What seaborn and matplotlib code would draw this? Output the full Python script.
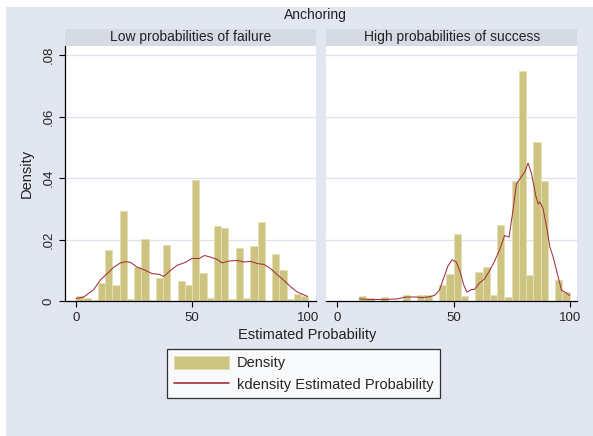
import numpy as np
import pandas as pd
import matplotlib
matplotlib.use("Agg")
import matplotlib.pyplot as plt
import matplotlib.patches as mpatches
import matplotlib.lines as mlines
import seaborn as sns

# ---------------- data ----------------
title = "Anchoring"
panel_titles = ["Low probabilities of failure", "High probabilities of success"]
n_bins = 32
bin_range = (0, 100)
bin_width = (bin_range[1] - bin_range[0]) / n_bins
bin_centers = [bin_range[0] + bin_width * (k + 0.5) for k in range(n_bins)]

dens_low = [0.0015, 0.0011, 0.0003, 0.0060, 0.0167, 0.0053, 0.0293, 0.0006,
            0.0110, 0.0201, 0.0003, 0.0076, 0.0182, 0.0000, 0.0066, 0.0051,
            0.0393, 0.0091, 0.0011, 0.0243, 0.0238, 0.0006, 0.0174, 0.0011,
            0.0179, 0.0256, 0.0000, 0.0152, 0.0100, 0.0006, 0.0023, 0.0015]

dens_high = [0.0000, 0.0000, 0.0000, 0.0015, 0.0011, 0.0000, 0.0012, 0.0000,
             0.0000, 0.0021, 0.0000, 0.0020, 0.0021, 0.0000, 0.0051, 0.0088,
             0.0219, 0.0015, 0.0000, 0.0094, 0.0112, 0.0021, 0.0246, 0.0012,
             0.0389, 0.0750, 0.0085, 0.0519, 0.0390, 0.0000, 0.0067, 0.0029]

kde_low_x = [0, 3.3, 7.6, 10.5, 13.4, 16.2, 19.1, 21.3, 23.4, 26.3, 29.2, 32.8,
             35.6, 37.8, 40.7, 43.5, 47.1, 50.0, 52.9, 55.3, 57.9, 60.8, 62.9,
             65.8, 69.4, 72.3, 75.1, 78.0, 80.9, 83.8, 86.6, 89.5, 92.4, 95.3, 99.6]
kde_low_y = [0.0008, 0.0013, 0.0037, 0.0069, 0.0089, 0.0110, 0.0124, 0.0128,
             0.0126, 0.0110, 0.0102, 0.0089, 0.0087, 0.0080, 0.0100, 0.0116,
             0.0126, 0.0139, 0.0138, 0.0148, 0.0143, 0.0135, 0.0124, 0.0130,
             0.0132, 0.0127, 0.0129, 0.0122, 0.0119, 0.0105, 0.0086, 0.0067,
             0.0046, 0.0029, 0.0015]

kde_high_x = [9.4, 13.7, 20.9, 25.9, 29.5, 33.9, 36.7, 39.6, 41.8, 43.9, 45.7,
              47.6, 49.4, 51.2, 52.9, 54.3, 55.8, 57.6, 59.1, 61.2, 63.4, 65.6,
              67.7, 69.9, 72.0, 73.9, 75.4, 77.1, 79.3, 80.7, 82.1, 83.6, 85.4,
              86.5, 87.2, 88.6, 90.1, 91.5, 92.9, 94.7, 96.5, 98.0, 100.0]
kde_high_y = [0.0007, 0.0005, 0.0005, 0.0007, 0.0013, 0.0013, 0.0011, 0.0014,
              0.0018, 0.0035, 0.0073, 0.0114, 0.0134, 0.0127, 0.0094, 0.0054,
              0.0029, 0.0037, 0.0038, 0.0059, 0.0072, 0.0100, 0.0130, 0.0168,
              0.0213, 0.0208, 0.0284, 0.0381, 0.0405, 0.0421, 0.0449, 0.0414,
              0.0343, 0.0316, 0.0322, 0.0300, 0.0240, 0.0176, 0.0143, 0.0089,
              0.0035, 0.0029, 0.0018]

y_ticks = [0, 0.02, 0.04, 0.06, 0.08]
y_ticklabels = ["0", ".02", ".04", ".06", ".08"]
x_ticks = [0, 50, 100]
x_ticklabels = ["0", "50", "100"]
legend_labels = ["Density", "kdensity Estimated Probability"]

# ---------------- style ----------------
sns.set_theme(style="white")
plt.rcParams["font.family"] = ["Liberation Sans", "DejaVu Sans"]

BG = "#E1E6F0"
STRIP = "#D5DAE5"
BAR = "#CDC482"
BAR_EDGE = "#E4DFB2"
LINE = "#A3303F"
GRID = "#DDE3EC"

W, H = 593, 436
fig = plt.figure(figsize=(W / 100, H / 100), dpi=100, facecolor="white")
fig.patches.append(mpatches.Rectangle((6 / W, 0), 1 - 6 / W, 1 - 7 / H,
                                      transform=fig.transFigure, facecolor=BG,
                                      edgecolor="none", zorder=-10))

def fx(px):
    return px / W

def fy(py):
    return 1 - py / H

panel_left = [64.7, 326.0]
panel_w = 251.3
top_px, bot_px = 46.0, 301.0

datasets = [(dens_low, kde_low_x, kde_low_y), (dens_high, kde_high_x, kde_high_y)]

for i, (dens, kx, ky) in enumerate(datasets):
    ax = fig.add_axes([fx(panel_left[i]), fy(bot_px), panel_w / W, (bot_px - top_px) / H])
    ax.set_facecolor("white")
    df = pd.DataFrame({"x": bin_centers, "w": dens})
    sns.histplot(data=df, x="x", weights="w", binwidth=bin_width, binrange=bin_range,
                 ax=ax, color=BAR, edgecolor=BAR_EDGE, linewidth=0.7, alpha=1.0)
    sns.lineplot(x=kx, y=ky, ax=ax, color=LINE, linewidth=0.75, legend=False)
    ax.set_xlim(-4.9, 103.3)
    ax.set_ylim(0, 0.083)
    for t in y_ticks[1:]:
        ax.axhline(t, color=GRID, linewidth=0.9, zorder=0)
    ax.set_xticks(x_ticks)
    ax.set_xticklabels(x_ticklabels, fontsize=9.5)
    ax.set_yticks(y_ticks)
    ax.set_xlabel("")
    ax.set_ylabel("")
    for s in ["top", "right"]:
        ax.spines[s].set_visible(False)
    ax.spines["bottom"].set_color("black")
    ax.spines["bottom"].set_linewidth(0.9)
    ax.tick_params(axis="x", direction="out", length=4, width=0.8, color="black",
                   bottom=True, pad=4)
    if i == 0:
        ax.spines["left"].set_color("black")
        ax.spines["left"].set_linewidth(0.9)
        ax.set_yticklabels(y_ticklabels, fontsize=9.5, rotation=90, va="center")
        ax.tick_params(axis="y", direction="out", length=4, width=0.8, color="black",
                       left=True, pad=3)
    else:
        ax.spines["left"].set_visible(False)
        ax.set_yticklabels([])
        ax.tick_params(axis="y", left=False)
    ax.set_axisbelow(True)
    # strip header
    fig.patches.append(mpatches.Rectangle((fx(panel_left[i]), fy(46.0)),
                                          panel_w / W, (46.0 - 28.7) / H,
                                          transform=fig.transFigure,
                                          facecolor=STRIP, edgecolor="none"))
    fig.text(fx(panel_left[i] + panel_w / 2), fy(37.5), panel_titles[i],
             ha="center", va="center", fontsize=10, color="#222222")

fig.text(fx(315), fy(15), title, ha="center", va="center", fontsize=10, color="#222222")
fig.text(fx(307), fy(335), "Estimated Probability", ha="center", va="center",
         fontsize=10.5, color="#222222")
fig.text(fx(27), fy(173), "Density", ha="center", va="center", rotation=90,
         fontsize=10.5, color="#222222")

handles = [mpatches.Patch(facecolor=BAR, edgecolor=BAR_EDGE, linewidth=0.7),
           mlines.Line2D([], [], color=LINE, linewidth=1.2)]
leg = fig.legend(handles, legend_labels, loc="upper left",
                 bbox_to_anchor=(fx(167), fy(349)), frameon=True, fancybox=False,
                 fontsize=10.5, handlelength=3.8, handleheight=1.0,
                 borderpad=0.45, labelspacing=0.5, handletextpad=0.55,
                 borderaxespad=0.0)
leg.get_frame().set_edgecolor("black")
leg.get_frame().set_linewidth(0.9)
leg.get_frame().set_facecolor("white")

fig.savefig("out.png", dpi=100, facecolor=fig.get_facecolor())
